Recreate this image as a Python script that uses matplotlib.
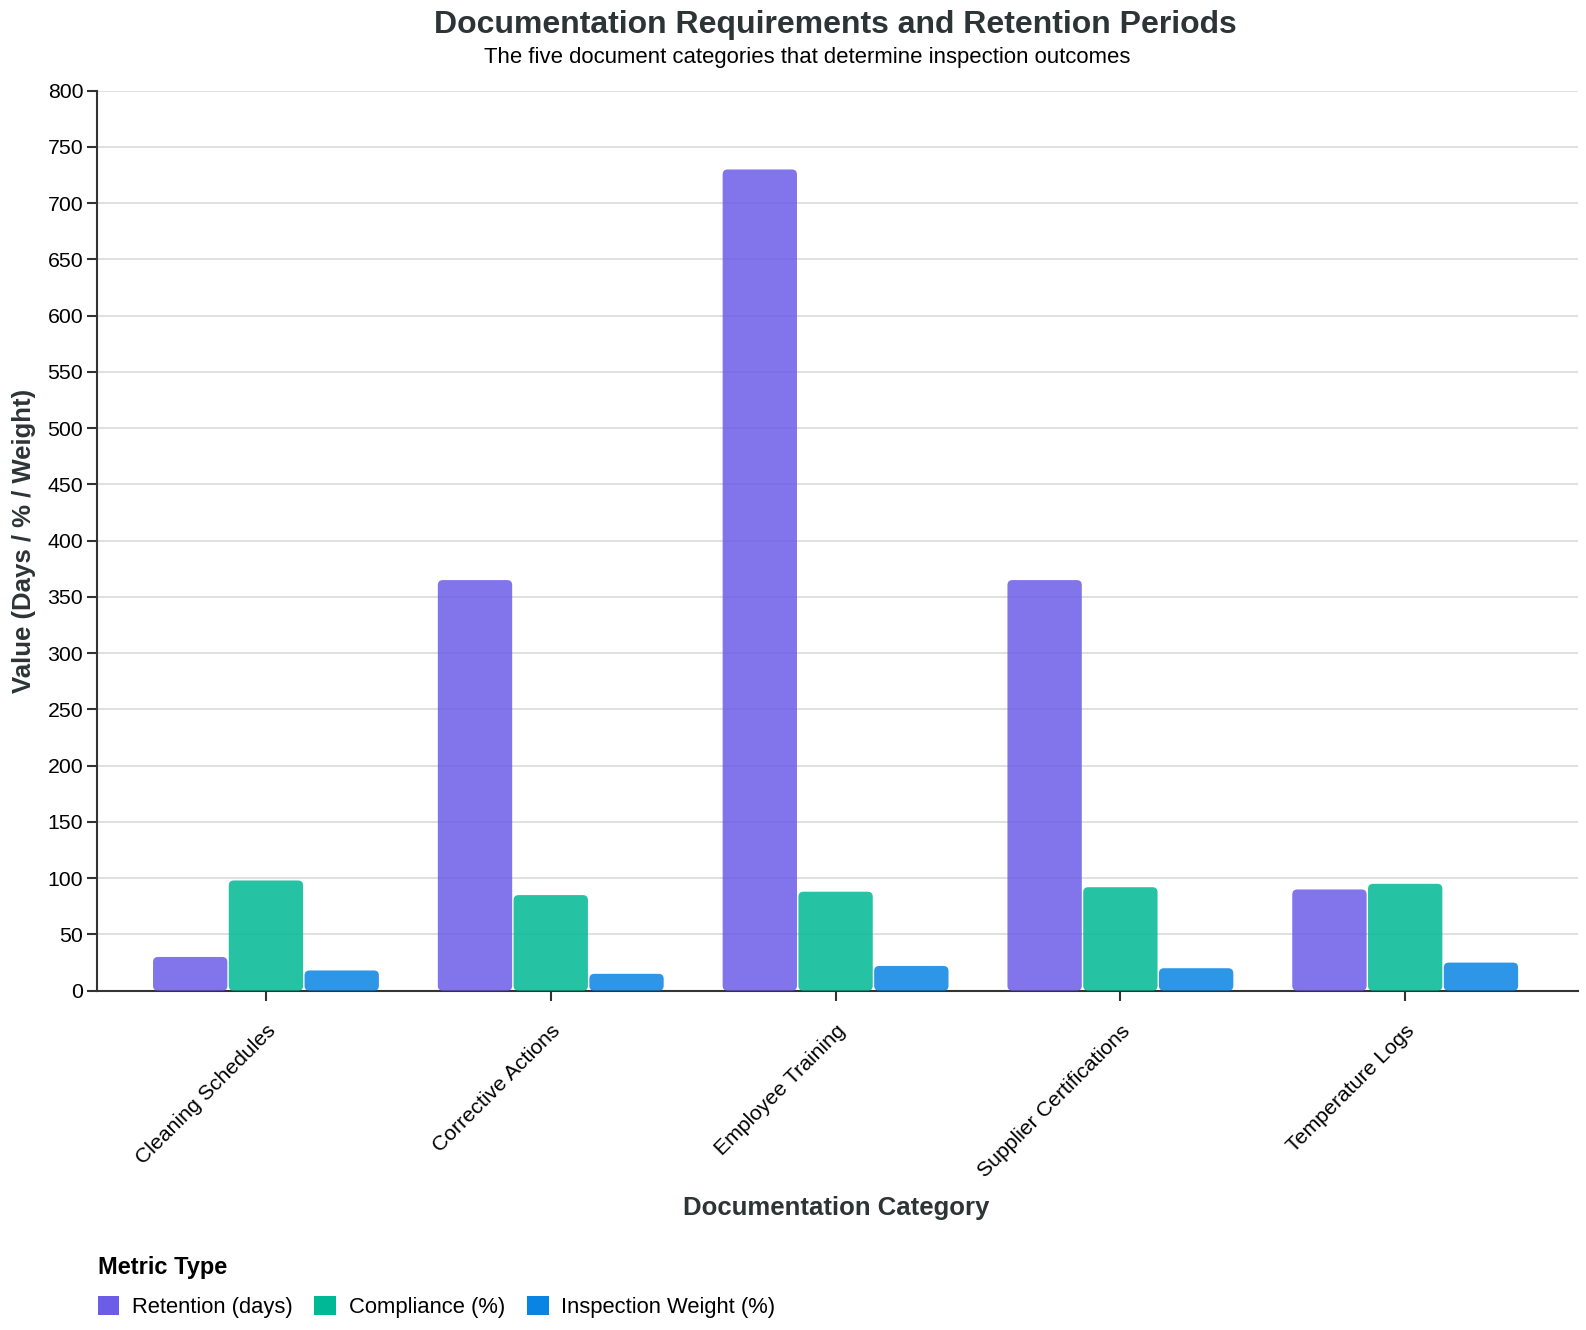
import numpy as np
import matplotlib
matplotlib.use('Agg')
import matplotlib.pyplot as plt
from matplotlib.patches import FancyBboxPatch, Patch

plt.rcParams['font.family'] = ['Liberation Sans', 'DejaVu Sans']

categories = ['Cleaning Schedules', 'Corrective Actions', 'Employee Training',
              'Supplier Certifications', 'Temperature Logs']
retention_days = [30, 365, 730, 365, 90]
compliance_pct = [98, 85, 88, 92, 95]
inspection_weight = [18, 15, 22, 20, 25]

series_names = ['Retention (days)', 'Compliance (%)', 'Inspection Weight (%)']
series_values = [retention_days, compliance_pct, inspection_weight]
colors = ['#6c5ce7', '#00b894', '#0984e3']
dark = '#2d3436'

fig = plt.figure(figsize=(15.86, 13.3), dpi=100)
ax = fig.add_axes([0.0612, 0.2551, 0.9338, 0.6767])

x = np.arange(len(categories))
w = 0.266
px_x = 281.5  # pixels per x unit
px_y = 1.125  # pixels per y unit
for i, (name, vals) in enumerate(zip(series_names, series_values)):
    bars = ax.bar(x + (i - 1) * w, vals, width=w, color=colors[i], alpha=0.85)
    for b in bars:
        b.set_visible(False)
        r = 5.0 / px_x
        p = FancyBboxPatch((b.get_x() + 0.7 / px_x, 0), b.get_width() - 1.4 / px_x, b.get_height(),
                           boxstyle='round,pad=0,rounding_size=%f' % r,
                           mutation_aspect=px_x / px_y,
                           facecolor=colors[i], alpha=0.85, edgecolor='none', zorder=3)
        ax.add_patch(p)

ax.set_xlim(-0.593, 4.607)
ax.set_ylim(0, 800)
ax.set_yticks(np.arange(0, 801, 50))
ax.grid(axis='y', color='#dddddd', linewidth=1.3, zorder=0)
ax.set_axisbelow(True)
for s in ['top', 'right']:
    ax.spines[s].set_visible(False)
for s in ['left', 'bottom']:
    ax.spines[s].set_color('#333333')
    ax.spines[s].set_linewidth(1.5)
ax.tick_params(axis='both', colors='#333333', length=7, width=1.5, labelsize=15.3,
               labelcolor='black')
ax.tick_params(axis='y', pad=3)
ax.set_xticks(x)
ax.set_xticklabels(categories, rotation=45, ha='right', rotation_mode='anchor')
ax.tick_params(axis='x', pad=15)

ax.set_ylabel('Value (Days / % / Weight)', fontsize=18.5, fontweight='bold', color=dark)
ax.yaxis.label.set_va('center')
ax.yaxis.set_label_coords(-0.0495, 0.5)
ax.set_xlabel('Documentation Category', fontsize=18.5, fontweight='bold', color=dark)
ax.xaxis.label.set_va('center')
ax.xaxis.set_label_coords(0.499, -0.2414)

fig.text(0.5268, 0.981, 'Documentation Requirements and Retention Periods', ha='center', va='center',
         fontsize=23, fontweight='bold', color=dark)
fig.text(0.5092, 0.9567, 'The five document categories that determine inspection outcomes',
         ha='center', va='center', fontsize=15.9, color='black')

handles = [Patch(facecolor=c, edgecolor='none') for c in colors]
leg = fig.legend(handles, series_names, loc='upper left', bbox_to_anchor=(0.0615, 0.0555),
                 ncol=3, frameon=False, fontsize=15.8, title='Metric Type',
                 title_fontproperties={'weight': 'bold', 'size': 17},
                 handlelength=1.0, handleheight=1.0, columnspacing=1.0, handletextpad=0.56,
                 labelspacing=0.75, borderpad=0, borderaxespad=0)
leg._legend_box.align = 'left'

fig.savefig('out.png', dpi=100)
